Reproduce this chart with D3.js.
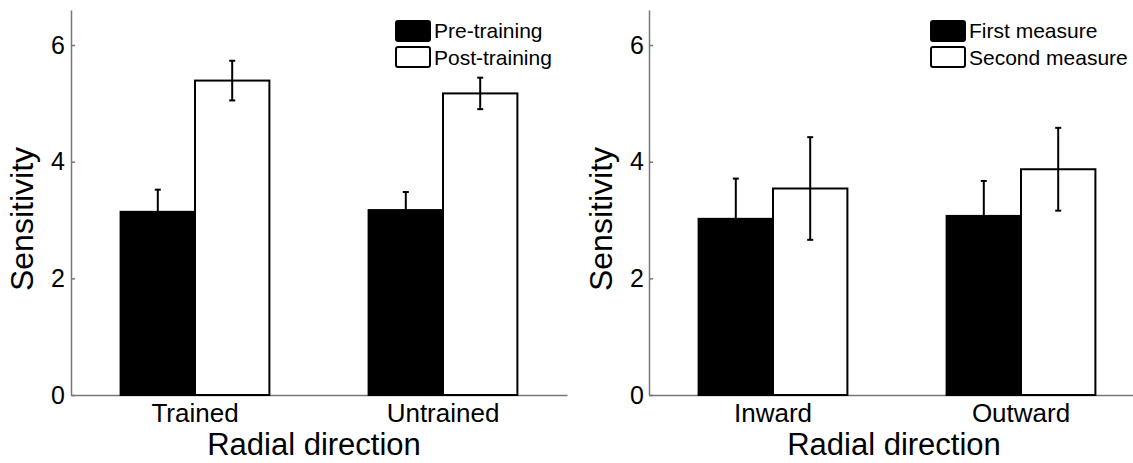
<!DOCTYPE html>
<html>
<head>
<meta charset="utf-8">
<script src="https://cdn.jsdelivr.net/npm/d3@7"></script>
<style>
    body { margin: 0; background: #fff; }
    svg { display: block; font-family: "Liberation Sans", Arial, Helvetica, sans-serif; }
    .axis path, .axis line { stroke: #777; stroke-width: 1.5; }
    .axis text { fill: #000; }
</style>
</head>
<body>
<svg width="1133" height="463"></svg>
<script>
const width = 1133;
const height = 463;

// left panel
const trainGroups = ["Trained", "Untrained"];
const preTraining = [3.14, 3.17];
const preTrainingErr = [0.38, 0.31];
const postTraining = [5.39, 5.17];
const postTrainingErr = [0.34, 0.27];

// right panel
const directionGroups = ["Inward", "Outward"];
const firstMeasure = [3.02, 3.07];
const firstMeasureErr = [0.69, 0.60];
const secondMeasure = [3.54, 3.87];
const secondMeasureErr = [0.88, 0.71];

const yTicks = [0, 2, 4, 6];

const svg = d3.select("svg");

const yScale = d3.scaleLinear()
    .domain([0, 6.6])
    .range([395, 10]);

function drawPanel(opts) {
    const g = svg.append("g");

    // x scale for groups
    const xScale = d3.scaleBand()
        .domain(opts.groups)
        .range([opts.left, opts.left + 496]);

    // bar positions inside a group
    const bw = xScale.bandwidth();
    const xInner = d3.scaleBand()
        .domain([0, 1])
        .range([bw * 0.2, bw * 0.8]);

    // y axis
    g.append("g")
        .attr("class", "axis")
        .attr("transform", `translate(${opts.left},0)`)
        .call(d3.axisLeft(yScale)
            .tickValues(yTicks)
            .tickFormat(d3.format("d"))
            .tickSizeInner(-4)
            .tickSizeOuter(0)
            .tickPadding(opts.tickPad))
        .selectAll("text")
        .style("font-size", "25px");

    // x axis
    g.append("g")
        .attr("class", "axis")
        .attr("transform", `translate(0,${yScale(0)})`)
        .call(d3.axisBottom(xScale).tickSize(0).tickPadding(9))
        .selectAll("text")
        .style("font-size", "26px");

    const series = [
        { values: opts.a, err: opts.aErr, fill: "#000" },
        { values: opts.b, err: opts.bErr, fill: "#fff" }
    ];

    series.forEach((s, i) => {
        const data = opts.groups.map((grp, j) => ({ grp, v: s.values[j], e: s.err[j] }));

        // bars
        g.selectAll(null)
            .data(data)
            .join("rect")
            .attr("x", d => xScale(d.grp) + xInner(i))
            .attr("y", d => yScale(d.v))
            .attr("width", xInner.bandwidth())
            .attr("height", d => yScale(0) - yScale(d.v))
            .attr("fill", s.fill)
            .attr("stroke", "#000")
            .attr("stroke-width", 2);

        // error bars
        const cx = d => xScale(d.grp) + xInner(i) + xInner.bandwidth() / 2;
        g.selectAll(null)
            .data(data)
            .join("line")
            .attr("x1", cx).attr("x2", cx)
            .attr("y1", d => yScale(d.v - d.e))
            .attr("y2", d => yScale(d.v + d.e))
            .attr("stroke", "#000")
            .attr("stroke-width", 2);

        [d => d.v - d.e, d => d.v + d.e].forEach(fn => {
            g.selectAll(null)
                .data(data)
                .join("line")
                .attr("x1", d => cx(d) - 3)
                .attr("x2", d => cx(d) + 3)
                .attr("y1", d => yScale(fn(d)))
                .attr("y2", d => yScale(fn(d)))
                .attr("stroke", "#000")
                .attr("stroke-width", 2);
        });
    });

    // y axis label
    g.append("text")
        .attr("transform", "rotate(-90)")
        .attr("x", -219)
        .attr("y", opts.labelX)
        .attr("text-anchor", "middle")
        .style("font-size", "32px")
        .text("Sensitivity");

    // x axis label
    g.append("text")
        .attr("x", opts.xLabelX)
        .attr("y", 455)
        .attr("text-anchor", "middle")
        .style("font-size", "31px")
        .text("Radial direction");

    // legend
    opts.legend.forEach((name, i) => {
        g.append("rect")
            .attr("x", opts.legendX)
            .attr("y", 21 + i * 26)
            .attr("width", 34)
            .attr("height", 20)
            .attr("rx", 2)
            .attr("fill", i === 0 ? "#000" : "#fff")
            .attr("stroke", "#000")
            .attr("stroke-width", 2);

        g.append("text")
            .attr("x", opts.legendX + 38)
            .attr("y", 38 + i * 27)
            .style("font-size", "21px")
            .text(name);
    });
}

drawPanel({
    left: 71, tickPad: 6, groups: trainGroups,
    a: preTraining, aErr: preTrainingErr,
    b: postTraining, bErr: postTrainingErr,
    labelX: 33, xLabelX: 314, legendX: 396,
    legend: ["Pre-training", "Post-training"]
});

drawPanel({
    left: 649, tickPad: 5, groups: directionGroups,
    a: firstMeasure, aErr: firstMeasureErr,
    b: secondMeasure, bErr: secondMeasureErr,
    labelX: 612, xLabelX: 894, legendX: 931,
    legend: ["First measure", "Second measure"]
});
</script>
</body>
</html>
